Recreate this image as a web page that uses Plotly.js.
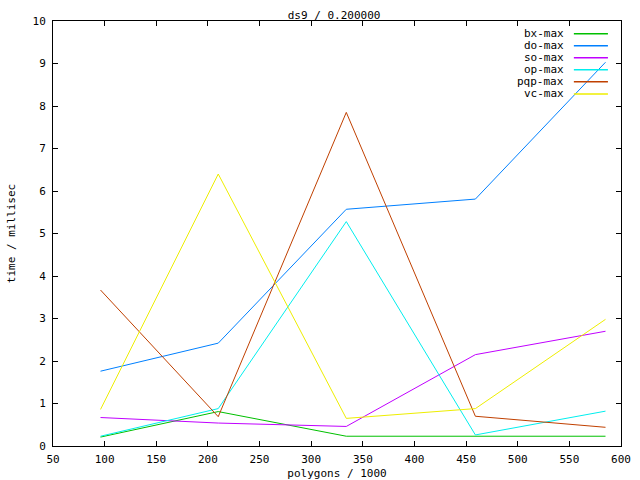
<!DOCTYPE html>
<html>
<head>
<meta charset="utf-8">
<script src="https://cdn.plot.ly/plotly-3.0.1.min.js"></script>
<style>html,body{margin:0;padding:0;background:#fff;}#chart{width:640px;height:480px;}</style>
</head>
<body>
<div id="chart"></div>
<script>
const polygons = [96, 210, 334, 459, 585];
const seriesNames = ["bx-max", "do-max", "so-max", "op-max", "pqp-max", "vc-max"];
const bxMax  = [0.21, 0.81, 0.23, 0.23, 0.23];
const doMax  = [1.76, 2.42, 5.57, 5.81, 9.03];
const soMax  = [0.67, 0.54, 0.46, 2.15, 2.70];
const opMax  = [0.23, 0.88, 5.28, 0.26, 0.82];
const pqpMax = [3.67, 0.69, 7.85, 0.70, 0.44];
const vcMax  = [0.86, 6.40, 0.65, 0.88, 2.98];
const seriesValues = [bxMax, doMax, soMax, opMax, pqpMax, vcMax];
const seriesColors = ["#00c000", "#0080ff", "#c000ff", "#00eeee", "#c04000", "#eeee00"];
const xTicks = [50, 100, 150, 200, 250, 300, 350, 400, 450, 500, 550, 600];
const yTicks = [0, 1, 2, 3, 4, 5, 6, 7, 8, 9, 10];

const FONT = "DejaVu Sans Mono, Liberation Mono, monospace";

const traces = seriesNames.map((name, i) => ({
  type: "scatter", mode: "lines", name: name,
  x: polygons, y: seriesValues[i],
  line: {color: seriesColors[i], width: 1},
  showlegend: false
}));

// gnuplot-style legend: right-aligned label, then a line sample
const annotations = [];
const shapes = [];
const rowTop = 0.97, rowStep = 0.0283;
seriesNames.forEach((name, i) => {
  const yy = rowTop - i * rowStep;
  annotations.push({
    xref: "paper", yref: "paper", x: 0.903, y: yy,
    xanchor: "right", yanchor: "middle", showarrow: false,
    text: name, font: {family: FONT, size: 11, color: "#000"}
  });
  shapes.push({
    type: "line", xref: "paper", yref: "paper",
    x0: 0.917, x1: 0.977, y0: yy, y1: yy,
    line: {color: seriesColors[i], width: 1.5}
  });
});

const layout = {
  width: 640, height: 480,
  margin: {l: 53, r: 19, t: 21, b: 34, pad: 0},
  paper_bgcolor: "#fff", plot_bgcolor: "#fff",
  font: {family: FONT, size: 11, color: "#000"},
  title: {text: "ds9 / 0.200000", x: 0.522, xanchor: "center", y: 0.968, yanchor: "middle",
          font: {family: FONT, size: 11, color: "#000"}},
  showlegend: false,
  xaxis: {
    range: [50, 600], tickvals: xTicks, ticktext: xTicks.map(String),
    ticks: "inside", ticklen: 5, tickcolor: "#000", tickwidth: 1,
    showline: true, linecolor: "#000", linewidth: 1, mirror: "ticks",
    showgrid: false, zeroline: false, ticklabelstandoff: 3,
    tickfont: {family: FONT, size: 11},
    title: {text: "polygons / 1000", font: {family: FONT, size: 11}, standoff: 6}
  },
  yaxis: {
    range: [0, 10], tickvals: yTicks, ticktext: yTicks.map(String),
    ticks: "inside", ticklen: 5, tickcolor: "#000", tickwidth: 1,
    showline: true, linecolor: "#000", linewidth: 1, mirror: "ticks",
    showgrid: false, zeroline: false, ticklabelstandoff: 4,
    tickfont: {family: FONT, size: 11},
    title: {text: "time / millisec", font: {family: FONT, size: 11}, standoff: 14}
  },
  annotations: annotations,
  shapes: shapes
};

Plotly.newPlot("chart", traces, layout, {staticPlot: true, displayModeBar: false});
</script>
</body>
</html>
